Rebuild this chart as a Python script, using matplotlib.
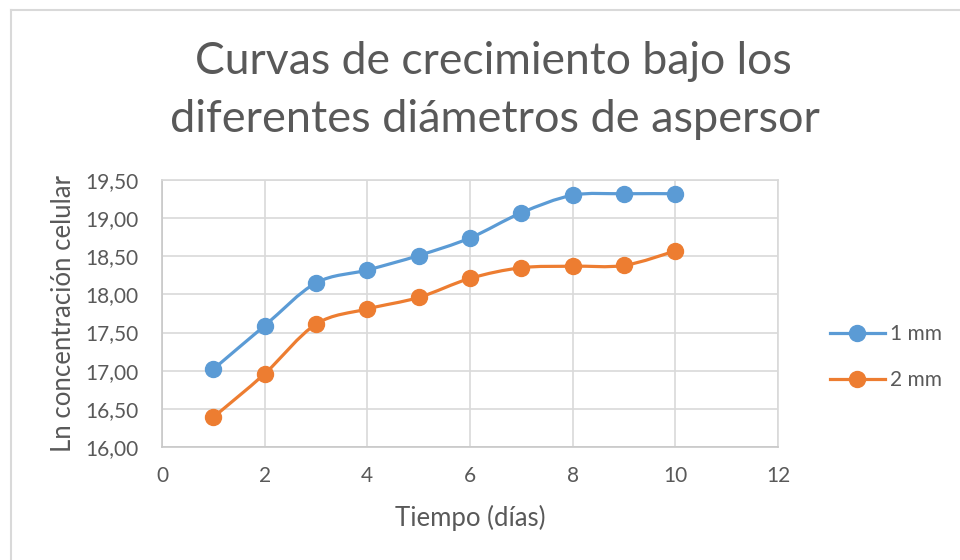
import matplotlib
matplotlib.use("Agg")
import matplotlib.pyplot as plt
from matplotlib.path import Path
from matplotlib.patches import PathPatch
from matplotlib.lines import Line2D
from matplotlib.ticker import FuncFormatter

plt.rcParams['font.family'] = ['Lato', 'DejaVu Sans']

# growth data: ln of cell concentration per day
dias = [1, 2, 3, 4, 5, 6, 7, 8, 9, 10]
serie_1mm = [17.02, 17.59, 18.15, 18.32, 18.51, 18.74, 19.07, 19.30, 19.32, 19.32]
serie_2mm = [16.39, 16.96, 17.61, 17.81, 17.96, 18.21, 18.35, 18.37, 18.38, 18.57]
nombres = ["1 mm", "2 mm"]
colores = ["#5B9BD5", "#ED7D31"]

gris_texto = "#595959"
gris_rejilla = "#D9D9D9"


def curva_suave(xs, ys):
    # Catmull-Rom style bezier through the points (like the smoothed line option)
    pts = list(zip(xs, ys))
    n = len(pts)
    verts = [pts[0]]
    codes = [Path.MOVETO]
    for i in range(n - 1):
        p0 = pts[i - 1] if i > 0 else pts[i]
        p1 = pts[i]
        p2 = pts[i + 1]
        p3 = pts[i + 2] if i + 2 < n else pts[i + 1]
        c1 = (p1[0] + (p2[0] - p0[0]) / 6, p1[1] + (p2[1] - p0[1]) / 6)
        c2 = (p2[0] - (p3[0] - p1[0]) / 6, p2[1] - (p3[1] - p1[1]) / 6)
        verts += [c1, c2, p2]
        codes += [Path.CURVE4] * 3
    return Path(verts, codes)


fig = plt.figure(figsize=(9.6, 5.6), dpi=100)
ax = fig.add_axes([162 / 960, 1 - 447 / 560, 616 / 960, 267 / 560])

for ys, color, nombre in zip([serie_1mm, serie_2mm], colores, nombres):
    ax.add_patch(PathPatch(curva_suave(dias, ys), facecolor="none",
                           edgecolor=color, linewidth=2.3, zorder=3,
                           capstyle="round", joinstyle="round"))
    ax.plot(dias, ys, linestyle="none", marker="o", markersize=11.5,
            color=color, zorder=4)

ax.set_xlim(0, 12)
ax.set_ylim(16, 19.5)
ax.set_xticks(range(0, 13, 2))
ax.set_yticks([16 + 0.5 * k for k in range(8)])
ax.yaxis.set_major_formatter(FuncFormatter(lambda v, p: f"{v:.2f}".replace(".", ",")))
ax.grid(True, color=gris_rejilla, linewidth=1.2)
ax.set_axisbelow(True)
for s in ax.spines.values():
    s.set_color(gris_rejilla)
    s.set_linewidth(1.2)
ax.spines['bottom'].set_color("#C8C8C8")
ax.spines['left'].set_color("#C8C8C8")
ax.tick_params(length=0, labelsize=15, labelcolor=gris_texto)
ax.tick_params(axis="y", pad=17)
ax.tick_params(axis="x", pad=14)

ax.set_xlabel("Tiempo (días)", fontsize=18.5, color=gris_texto)
ax.set_ylabel("Ln concentración celular", fontsize=18.5, color=gris_texto)
ax.xaxis.set_label_coords(0.5, -(518 - 447) / 267, transform=ax.transAxes)
ax.xaxis.label.set_va("center")
ax.yaxis.set_label_coords(-(162 - 64) / 616, 0.5, transform=ax.transAxes)
ax.yaxis.label.set_va("center")

fig.text(493 / 960, 1 - 62 / 560, "Curvas de crecimiento bajo los", ha="center", va="center",
         fontsize=32, color=gris_texto)
fig.text(495 / 960, 1 - 120 / 560, "diferentes diámetros de aspersor", ha="center", va="center",
         fontsize=32.5, color=gris_texto)

handles = [Line2D([], [], color=c, marker="o", markersize=11.5, linewidth=2.3)
           for c in colores]
fig.legend(handles, nombres, loc="center left", bbox_to_anchor=(811 / 960, 1 - 357 / 560),
           frameon=False, fontsize=15, labelcolor=gris_texto, handlelength=2.65,
           handletextpad=0.25, labelspacing=1.25)

# chart outer border (top and left edges)
fig.add_artist(Line2D([11 / 960, 1], [1 - 10 / 560, 1 - 10 / 560], color="#D9D9D9",
                      linewidth=1.5, transform=fig.transFigure))
fig.add_artist(Line2D([11 / 960, 11 / 960], [0, 1 - 10 / 560], color="#D9D9D9",
                      linewidth=1.5, transform=fig.transFigure))

fig.savefig("out.png", dpi=100, facecolor="white")
